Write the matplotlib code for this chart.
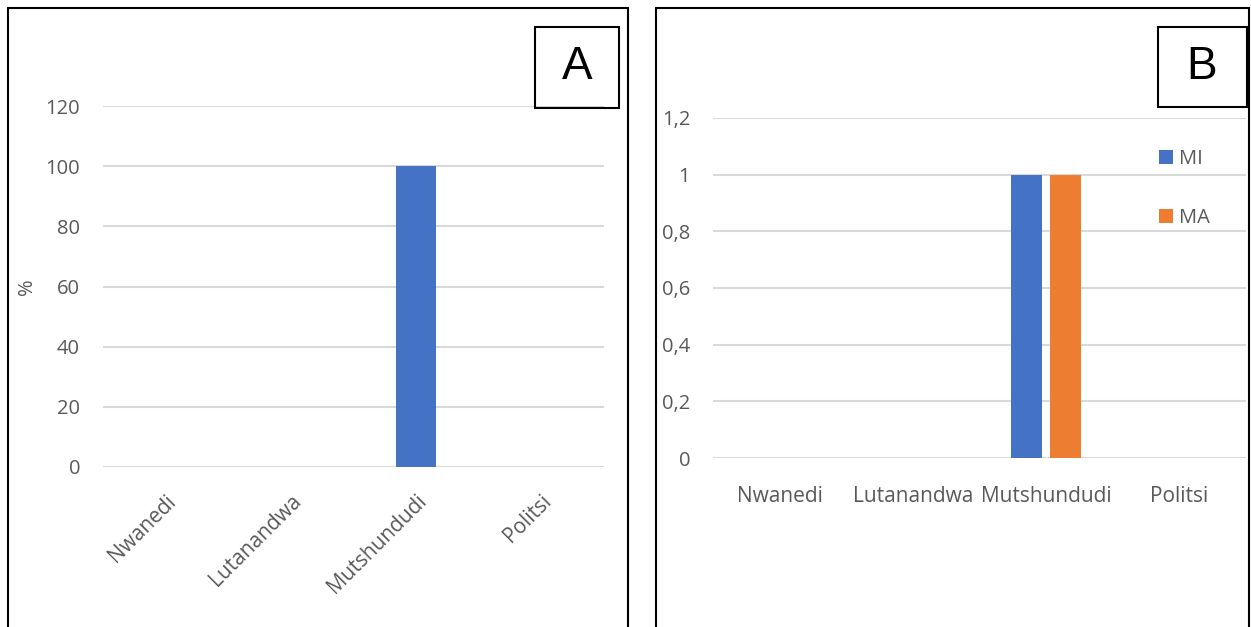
import numpy as np
import matplotlib.pyplot as plt
from matplotlib.patches import Rectangle

plt.rcParams['font.family'] = ['Open Sans', 'DejaVu Sans']

# Data
sites = ["Nwanedi", "Lutanandwa", "Mutshundudi", "Politsi"]
pct_a = [0, 0, 100, 0]
mi_b = [0, 0, 1, 0]
ma_b = [0, 0, 1, 0]
ticks_a = [0, 20, 40, 60, 80, 100, 120]
ticks_b = [0, 0.2, 0.4, 0.6, 0.8, 1.0, 1.2]
tick_labels_b = ["0", "0,2", "0,4", "0,6", "0,8", "1", "1,2"]

blue = "#4472C4"
orange = "#ED7D31"
grid_col = "#D9D9D9"
txt_col = "#595959"

W, H = 1251, 627
fig = plt.figure(figsize=(W / 100, H / 100), dpi=100)


def px_axes(x0, y0, x1, y1):
    # pixel box (top-left origin) -> figure axes
    return fig.add_axes([x0 / W, 1 - y1 / H, (x1 - x0) / W, (y1 - y0) / H])


def frame(x0, y0, x1, y1, lw=1.5):
    fig.patches.append(Rectangle((x0 / W, 1 - y1 / H), (x1 - x0) / W, (y1 - y0) / H,
                                 transform=fig.transFigure, fill=False,
                                 edgecolor="black", linewidth=lw, zorder=5))


def style(ax, ticks):
    for s in ax.spines.values():
        s.set_visible(False)
    ax.set_yticks(ticks)
    ax.yaxis.grid(True, color=grid_col, linewidth=1.5)
    ax.set_axisbelow(True)
    ax.tick_params(length=0, colors=txt_col)
    ax.tick_params(axis="y", pad=16.5, labelsize=14.5)
    ax.tick_params(axis="x", labelsize=15)


x = np.arange(len(sites))

# Panel A
axA = px_axes(103, 106, 604, 467)
axA.bar(x, pct_a, width=0.32, color=blue)
axA.set_xlim(-0.5, 3.5)
axA.set_ylim(0, 120)
style(axA, ticks_a)
axA.set_xticks(x)
axA.set_xticklabels(sites, rotation=45, ha="right", rotation_mode="anchor")
axA.tick_params(axis="x", pad=17)
axA.set_ylabel("%", color=txt_col, fontsize=14.5, labelpad=6)

# Panel B
axB = px_axes(713, 118, 1246, 458)
w = 0.233
axB.bar(x - 0.146, mi_b, width=w, color=blue, label="MI")
axB.bar(x + 0.146, ma_b, width=w, color=orange, label="MA")
axB.set_xlim(-0.5, 3.5)
axB.set_ylim(0, 1.2)
style(axB, ticks_b)
axB.set_yticklabels(tick_labels_b)
axB.set_xticks(x)
axB.set_xticklabels(sites)
axB.tick_params(axis="x", pad=20)
leg = axB.legend(loc="upper left", bbox_to_anchor=(1141 / W, 1 - 131 / H),
                 bbox_transform=fig.transFigure, frameon=False,
                 handlelength=0.7, handleheight=0.7, handletextpad=0.3,
                 labelspacing=1.95, fontsize=14.5)
for t in leg.get_texts():
    t.set_color(txt_col)

# Panel frames and letter boxes
frame(8, 8, 628, 640)
frame(656, 8, 1249, 640)
frame(535, 27, 619, 108)
frame(1158, 27, 1247, 107)
fig.text(577 / W, 1 - 67 / H, "A", ha="center", va="center", fontsize=33,
         family="Liberation Sans")
fig.text(1202 / W, 1 - 67 / H, "B", ha="center", va="center", fontsize=33,
         family="Liberation Sans")

fig.savefig("out.png", dpi=100)
